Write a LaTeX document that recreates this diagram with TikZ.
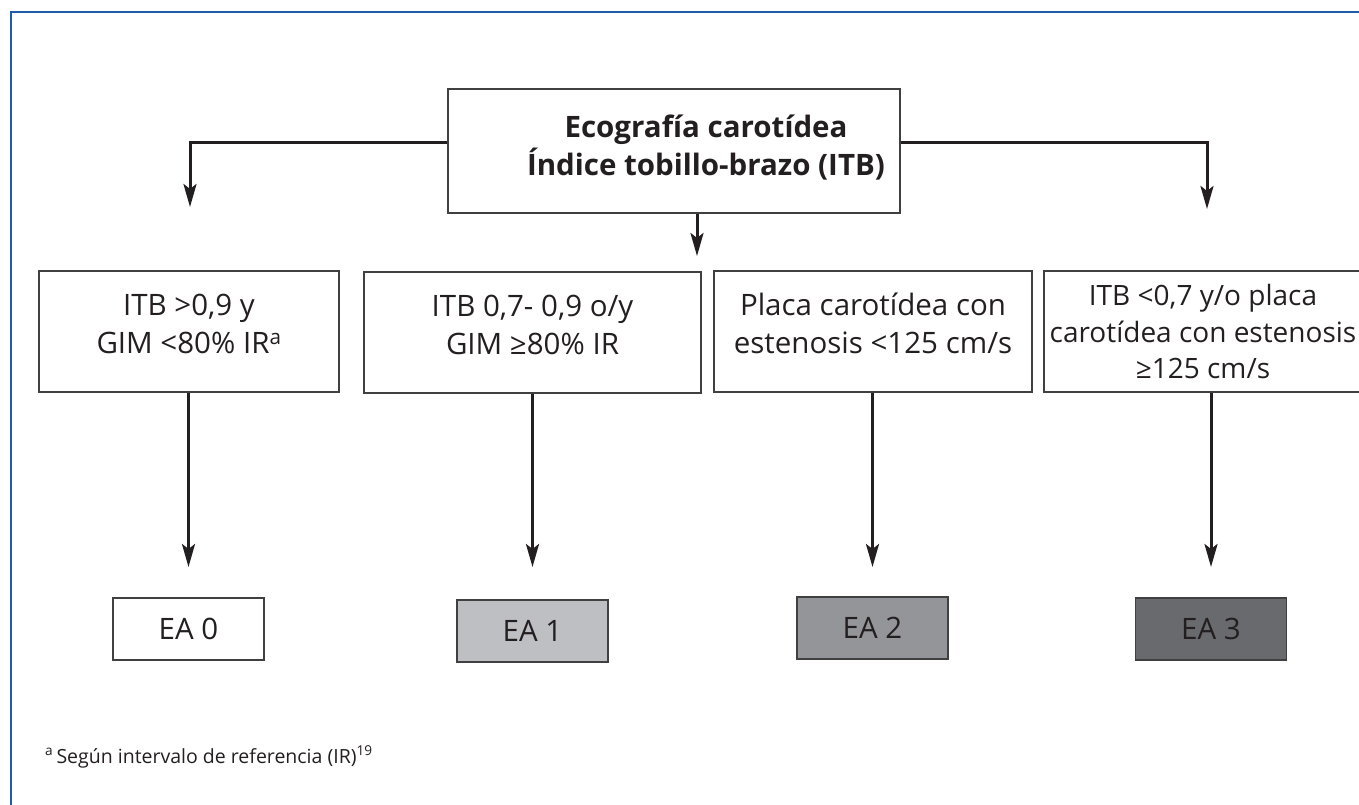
\documentclass[tikz,border=0pt]{standalone}
\usepackage{fontspec}
\setmainfont{Open Sans}
\usetikzlibrary{arrows.meta,positioning}
\definecolor{frameblue}{RGB}{31,92,170}
\definecolor{ink}{RGB}{35,31,32}
\definecolor{boxline}{RGB}{64,64,64}
\definecolor{eaone}{RGB}{190,191,195}
\definecolor{eatwo}{RGB}{148,149,153}
\definecolor{eathree}{RGB}{105,106,110}

\begin{document}
\begin{tikzpicture}[x=1pt,y=-1pt,
    box/.style={draw=boxline,line width=1.8pt,inner sep=0pt,text=ink,align=center,
        font=\fontsize{29.5pt}{38pt}\selectfont},
    crit/.style={box,minimum height=121pt},
    lifted/.style={text depth=16pt},
    stage/.style={box,minimum width=151pt,minimum height=62pt},
    arr/.style={draw=ink,line width=3pt,-{Stealth[length=23pt,width=13pt,inset=5pt]}}]
                \useasboundingbox (0,0) rectangle (1359,804);
                \clip (0,0) rectangle (1359,804);
                \draw[frameblue,line width=2.5pt] (11,830) -- (11,12) -- (1380,12);
                % top box
                \node[box,minimum width=452pt,minimum height=124pt] (T) at (674,151) {};
                \node[text=ink,align=center,font=\bfseries\fontsize{29.5pt}{38pt}\selectfont] (Tt) at (706,148) {Ecografía carotídea\\Índice tobillo-brazo (ITB)};
                \coordinate (L) at (190,207);
                \coordinate (R) at (1207,209);
                \coordinate (M) at (697,256);
                \coordinate (tips) at (0,567);
                % criteria
                \node[crit,lifted,minimum width=300pt] (c0) at (189,331.5) {ITB >0,9 y\\GIM <80\% IR\textsuperscript{a}};
                \node[crit,lifted,minimum width=337pt] (c1) at (532.5,332.5) {ITB 0,7- 0,9 o/y\\GIM ≥80\% IR};
                \node[crit,lifted,minimum width=318pt] (c2) at (873,331.5) {Placa carotídea con\\estenosis <125 cm/s};
                \node[crit,minimum width=318pt,font=\fontsize{28pt}{36.5pt}\selectfont] (c3) at (1203,331.5) {ITB <0,7 y/o placa\\carotídea con estenosis\\≥125 cm/s};
                % stages
                \node[stage,fill=white] (ea0) at (188.5,629) {EA 0};
                \node[stage,fill=eaone] (ea1) at (532.5,631) {EA 1};
                \node[stage,fill=eatwo] (ea2) at (872.5,628) {EA 2};
                \node[stage,fill=eathree] (ea3) at (1211,629) {EA 3};
                % arrows
                \draw[arr] ([yshift=9pt]T.west) -| (L);
                \draw[arr] ([yshift=9pt]T.east) -| (R);
                \draw[arr] (T.south -| M) -- (M);
                \draw[arr] (ea0.north |- c0.south) -- (ea0.north |- tips);
                \draw[arr] (ea1.north |- c1.south) -- (ea1.north |- tips);
                \draw[arr] (ea2.north |- c2.south) -- (ea2.north |- tips);
                \draw[arr] (ea3.north |- c3.south) -- (ea3.north |- tips);
                \node[anchor=base west,inner sep=0pt,text=ink,font=\fontsize{19.5pt}{23pt}\selectfont] (note) at (45,763) {\textsuperscript{a}\,Según intervalo de referencia (IR)\textsuperscript{19}};
            \end{tikzpicture}
\end{document}
